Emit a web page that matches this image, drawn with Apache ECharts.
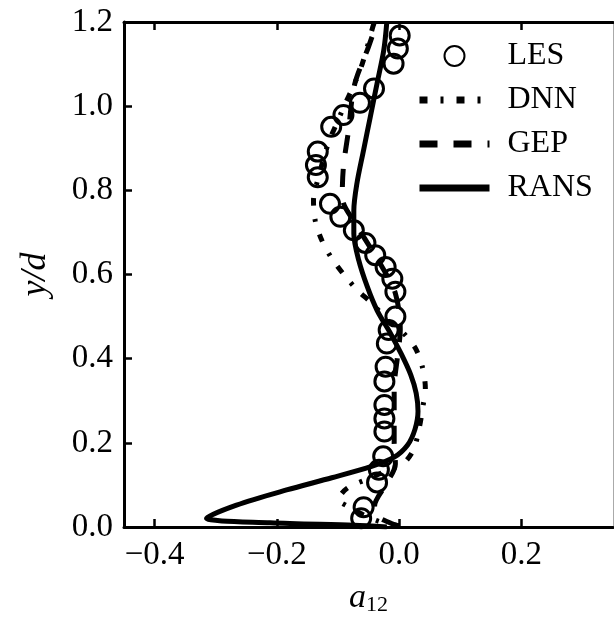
<!DOCTYPE html>
<html>
<head>
<meta charset="utf-8">
<script src="https://cdn.jsdelivr.net/npm/echarts@6/dist/echarts.min.js"></script>
<style>
  html, body { margin: 0; padding: 0; background: #fff; }
  #main { width: 614px; height: 621px; }
</style>
</head>
<body>
<div id="main"></div>
<script>
// tick labels
var xTicks = [-0.4, -0.2, 0.0, 0.2];
var yTicks = [0.0, 0.2, 0.4, 0.6, 0.8, 1.0, 1.2];

// LES points [a12, y/d]
var les = [
  [0.001, 1.168], [-0.002, 1.137], [-0.009, 1.101], [-0.041, 1.042], [-0.064, 1.008],
  [-0.091, 0.979], [-0.111, 0.951], [-0.133, 0.892], [-0.136, 0.860], [-0.133, 0.831],
  [-0.113, 0.768], [-0.096, 0.737], [-0.074, 0.705], [-0.055, 0.675], [-0.039, 0.646],
  [-0.022, 0.618], [-0.011, 0.590], [-0.006, 0.559], [-0.006, 0.500], [-0.017, 0.468],
  [-0.020, 0.436], [-0.022, 0.381], [-0.024, 0.346], [-0.024, 0.290], [-0.024, 0.258],
  [-0.024, 0.227], [-0.026, 0.168], [-0.033, 0.136], [-0.036, 0.106], [-0.058, 0.047],
  [-0.062, 0.021]
];

// DNN curve, from the wall upward
var dnn = [
  [0.0, 0.003], [-0.03, 0.012], [-0.06, 0.03], [-0.085, 0.05], [-0.099, 0.065],
  [-0.085, 0.092], [-0.05, 0.115], [-0.015, 0.137], [0.008, 0.152], [0.024, 0.185],
  [0.033, 0.235], [0.039, 0.286], [0.043, 0.330], [0.038, 0.381], [0.027, 0.424],
  [0.005, 0.464], [-0.016, 0.487], [-0.044, 0.531], [-0.069, 0.564], [-0.091, 0.601],
  [-0.110, 0.638], [-0.126, 0.680], [-0.137, 0.727], [-0.140, 0.776], [-0.133, 0.825],
  [-0.115, 0.915], [-0.102, 0.959], [-0.089, 1.003], [-0.074, 1.050], [-0.062, 1.093],
  [-0.052, 1.141], [-0.043, 1.188], [-0.040, 1.2]
];

// GEP curve
var gep = [
  [0.0, 0.002], [-0.015, 0.01], [-0.035, 0.025], [-0.04, 0.05], [-0.022, 0.10],
  [-0.006, 0.15], [-0.008, 0.20], [-0.008, 0.26], [-0.008, 0.33], [-0.003, 0.40],
  [0.002, 0.468], [-0.006, 0.555], [-0.031, 0.626], [-0.066, 0.709], [-0.093, 0.784],
  [-0.091, 0.856], [-0.083, 0.939], [-0.073, 1.050], [-0.050, 1.141], [-0.036, 1.2]
];

// RANS curve
var rans = [
  [-0.02, 0.0], [-0.074, 0.004], [-0.211, 0.010], [-0.315, 0.021], [-0.266, 0.052],
  [-0.184, 0.088], [-0.110, 0.117], [-0.045, 0.144], [-0.008, 0.166], [0.014, 0.195],
  [0.026, 0.232], [0.031, 0.275], [0.028, 0.318], [0.019, 0.362], [0.004, 0.410],
  [-0.014, 0.460], [-0.036, 0.515], [-0.052, 0.571], [-0.066, 0.634], [-0.074, 0.697],
  [-0.074, 0.752], [-0.069, 0.816], [-0.058, 0.896], [-0.047, 0.975], [-0.036, 1.054],
  [-0.025, 1.133], [-0.020, 1.2]
];

var FONT = 'Liberation Serif';

function fmt(v) {
  return (v < -1e-9 ? '\u2212' : '') + Math.abs(v).toFixed(1);
}

var chart = echarts.init(document.getElementById('main'));

// legend: lines only, no marker in the middle
var hideMark = { color: 'rgba(0,0,0,0)', borderWidth: 0, opacity: 0 };

var option = {
  backgroundColor: '#ffffff',
  animation: false,
  grid: { left: 124, right: 1, top: 22, bottom: 92 },
  legend: {
    orient: 'vertical',
    left: 411,
    top: 35,
    itemWidth: 70,
    itemHeight: 20,
    itemGap: 12,
    textStyle: {
      fontFamily: FONT, fontSize: 32, color: '#000',
      lineHeight: 30, padding: [0, 0, 0, 13]
    },
    data: [
      { name: 'LES' },
      { name: 'DNN', itemStyle: hideMark, lineStyle: { width: 7 } },
      { name: 'GEP', itemStyle: hideMark, lineStyle: { width: 7 } },
      { name: 'RANS', itemStyle: hideMark, lineStyle: { width: 7 } }
    ]
  },
  xAxis: [{
    type: 'value',
    min: -0.45,
    max: 0.35,
    name: '{a|a}{s|12}',
    nameLocation: 'middle',
    nameGap: 53,
    nameTextStyle: {
      rich: {
        a: { fontFamily: FONT, fontStyle: 'italic', fontSize: 34, color: '#000' },
        s: { fontFamily: FONT, fontSize: 22, color: '#000', padding: [14, 0, 0, 0] }
      }
    },
    splitLine: { show: false },
    axisLine: { onZero: false, lineStyle: { color: '#000', width: 3 } },
    axisTick: { inside: true, length: 8, customValues: xTicks, lineStyle: { color: '#000', width: 2.5 } },
    axisLabel: {
      customValues: xTicks, formatter: fmt, margin: 12,
      fontFamily: FONT, fontSize: 33, color: '#000'
    }
  }, {
    type: 'value',
    position: 'top',
    min: -0.45,
    max: 0.35,
    splitLine: { show: false },
    axisLine: { onZero: false, lineStyle: { color: '#000', width: 3 } },
    axisTick: { inside: true, length: 8, customValues: xTicks, lineStyle: { color: '#000', width: 2.5 } },
    axisLabel: { show: false }
  }],
  yAxis: [{
    type: 'value',
    min: 0,
    max: 1.2,
    interval: 0.2,
    name: 'y/d',
    nameLocation: 'middle',
    nameGap: 70,
    nameTextStyle: { fontFamily: FONT, fontStyle: 'italic', fontSize: 36, color: '#000' },
    splitLine: { show: false },
    axisLine: { onZero: false, lineStyle: { color: '#000', width: 3 } },
    axisTick: { inside: true, length: 8, lineStyle: { color: '#000', width: 2.5 } },
    axisLabel: {
      formatter: fmt, margin: 11,
      fontFamily: FONT, fontSize: 33, color: '#000'
    }
  }, {
    type: 'value',
    position: 'right',
    min: 0,
    max: 1.2,
    splitLine: { show: false },
    axisLine: { onZero: false, lineStyle: { color: '#aaa', width: 1 } },
    axisTick: { show: false },
    axisLabel: { show: false }
  }],
  series: [{
    name: 'LES',
    type: 'scatter',
    data: les,
    symbol: 'circle',
    symbolSize: 19,
    itemStyle: { color: 'rgba(0,0,0,0)', borderColor: '#000', borderWidth: 3, opacity: 1 },
    z: 2
  }, {
    name: 'DNN',
    type: 'line',
    data: dnn,
    showSymbol: false,
    symbol: 'none',
    smooth: 0.3,
    lineStyle: { color: '#000', width: 5, type: [8, 13, 3, 13] },
    itemStyle: { color: '#000' },
    z: 3
  }, {
    name: 'GEP',
    type: 'line',
    data: gep,
    showSymbol: false,
    symbol: 'none',
    smooth: 0.3,
    lineStyle: { color: '#000', width: 5, type: [18, 16] },
    itemStyle: { color: '#000' },
    z: 3
  }, {
    name: 'RANS',
    type: 'line',
    data: rans,
    showSymbol: false,
    symbol: 'none',
    smooth: 0.3,
    lineStyle: { color: '#000', width: 5 },
    itemStyle: { color: '#000' },
    z: 4
  }]
};

chart.setOption(option);
</script>
</body>
</html>
